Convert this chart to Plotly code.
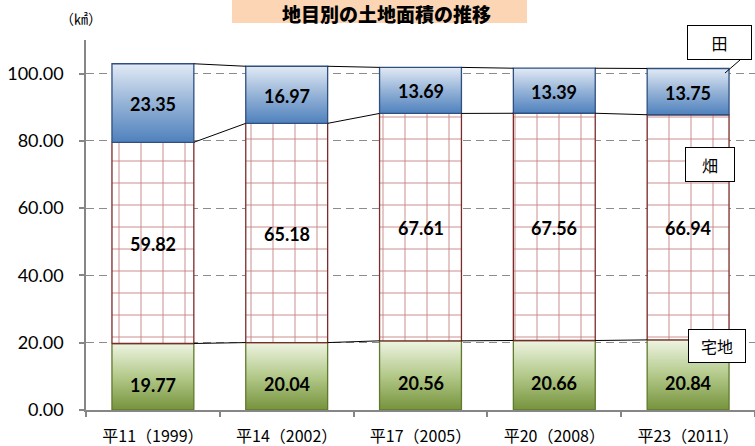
import plotly.graph_objects as go

# ---- data ----
years = ["平11（1999）", "平14（2002）", "平17（2005）", "平20（2008）", "平23（2011）"]
takuchi = [19.77, 20.04, 20.56, 20.66, 20.84]   # 宅地
hata = [59.82, 65.18, 67.61, 67.56, 66.94]      # 畑
ta = [23.35, 16.97, 13.69, 13.39, 13.75]        # 田
series_names = ["宅地", "畑", "田"]
y_ticks = [0, 20, 40, 60, 80, 100]

W, H = 755, 446
ML, MR, MT, MB = 86, 0, 40, 36
PW = W - ML - MR
PH = H - MT - MB


def px(x):
    return (x - ML) / PW


def py(y):
    return (H - MB - y) / PH


half = 0.306
series = [takuchi, hata, ta]
styles = [
    dict(line="#5f7a2c", grad=[[0, "#76933c"], [0.5, "#b3c98a"], [1, "#eef4e2"]], pattern=None),
    dict(line="#7b2c2a", grad=None, pattern=dict(shape="+", fgcolor="#a33b3b", fgopacity=0.65,
                                                  bgcolor="#ffffff", size=22, solidity=0.08)),
    dict(line="#2f4f7f", grad=[[0, "#4f81bd"], [0.5, "#95b3d7"], [1, "#e2eaf5"]], pattern=None),
]

fig = go.Figure()
annotations = []
cum_levels = []
bases = [0.0] * len(years)
for s, vals in enumerate(series):
    st = styles[s]
    tops = []
    for i, v in enumerate(vals):
        b = bases[i]
        t = b + v
        tops.append(t)
        kw = dict(
            x=[i - half, i + half, i + half, i - half, i - half],
            y=[b, b, t, t, b],
            mode="lines", fill="toself",
            line=dict(color=st["line"], width=1.3),
            hoverinfo="skip", showlegend=False, name=series_names[s],
        )
        if st["grad"] is not None:
            kw["fillgradient"] = dict(type="vertical", colorscale=st["grad"])
            kw["fillcolor"] = st["grad"][1][1]
        else:
            kw["fillcolor"] = "#ffffff"
            kw["fillpattern"] = st["pattern"]
        fig.add_trace(go.Scatter(**kw))
        annotations.append(dict(
            x=i, y=b + v / 2, xref="x", yref="y", text=f"<b>{v:.2f}</b>", showarrow=False,
            yshift=-8 if s == 0 else -1,
            font=dict(family="Lato, sans-serif", size=18, color="#000000"),
        ))
    cum_levels.append(tops)
    bases = tops

# series lines connecting bars
lx, ly = [], []
for tops in cum_levels:
    for i in range(len(years) - 1):
        lx += [i + half, i + 1 - half, None]
        ly += [tops[i], tops[i + 1], None]
fig.add_trace(go.Scatter(x=lx, y=ly, mode="lines", line=dict(color="#000000", width=1),
                         hoverinfo="skip", showlegend=False))

# title
shapes = [
    dict(type="rect", xref="paper", yref="paper", x0=px(232), x1=px(527), y0=py(23), y1=py(-5),
         fillcolor="#fcd5b4", line=dict(width=0), layer="below"),
    dict(type="line", xref="paper", yref="paper", x0=px(740), y0=py(60), x1=px(725), y1=py(73),
         line=dict(color="#000000", width=1)),
]
annotations.append(dict(xref="paper", yref="paper", x=px(386), y=py(13.5), text="地目別の土地面積の推移",
                        showarrow=False, xanchor="center", yanchor="middle",
                        font=dict(family="Noto Sans CJK JP", size=19, color="#000000", weight=900)))
annotations.append(dict(xref="paper", yref="paper", x=px(81), y=py(18), text="（㎢）",
                        showarrow=False, xanchor="center", yanchor="middle",
                        font=dict(family="Noto Sans CJK JP", size=14, color="#000000")))

legend_boxes = [("田", 719.5, 42.5, 61, 31), ("畑", 710, 164.5, 46, 31), ("宅地", 717, 346, 54, 30)]
for txt, cx, cy, bw, bh in legend_boxes:
    annotations.append(dict(xref="paper", yref="paper", x=px(cx), y=py(cy), text=txt, showarrow=False,
                            xanchor="center", yanchor="middle", width=bw, height=bh,
                            bgcolor="#ffffff", bordercolor="#000000", borderwidth=1, borderpad=1,
                            font=dict(family="Noto Sans CJK JP", size=16, color="#000000")))

fig.update_layout(
    width=W, height=H, margin=dict(l=ML, r=MR, t=MT, b=MB, autoexpand=False),
    paper_bgcolor="#ffffff", plot_bgcolor="#ffffff",
    shapes=shapes, annotations=annotations,
    xaxis=dict(range=[-0.5, len(years) - 0.5], tickmode="array", tickvals=list(range(len(years))),
               ticktext=years, ticks="", showgrid=False, zeroline=False, automargin=False,
               showline=True, linecolor="#868686", linewidth=1.5, ticklabelstandoff=11,
               tickfont=dict(family="Noto Sans CJK JP", size=16, color="#000000"),
               minor=dict(tickmode="array", tickvals=[i - 0.5 for i in range(len(years) + 1)],
                          ticks="outside", ticklen=5, tickcolor="#868686", tickwidth=1.5, showgrid=False),
               fixedrange=True),
    yaxis=dict(range=[0, 110], tickmode="array", tickvals=y_ticks, tickformat=".2f",
               ticks="outside", ticklen=5, tickcolor="#868686", tickwidth=1.5,
               showgrid=True, gridcolor="#8c8c8c", griddash="8px,5px", gridwidth=1.2,
               zeroline=False, showline=True, linecolor="#868686", linewidth=1.5,
               ticklabelstandoff=12, automargin=False,
               tickfont=dict(family="Lato, sans-serif", size=18, color="#000000"), fixedrange=True),
)

fig.write_html("out.html", config={"displayModeBar": False},
               post_script="document.body.style.margin='0';document.body.style.overflow='hidden';")
